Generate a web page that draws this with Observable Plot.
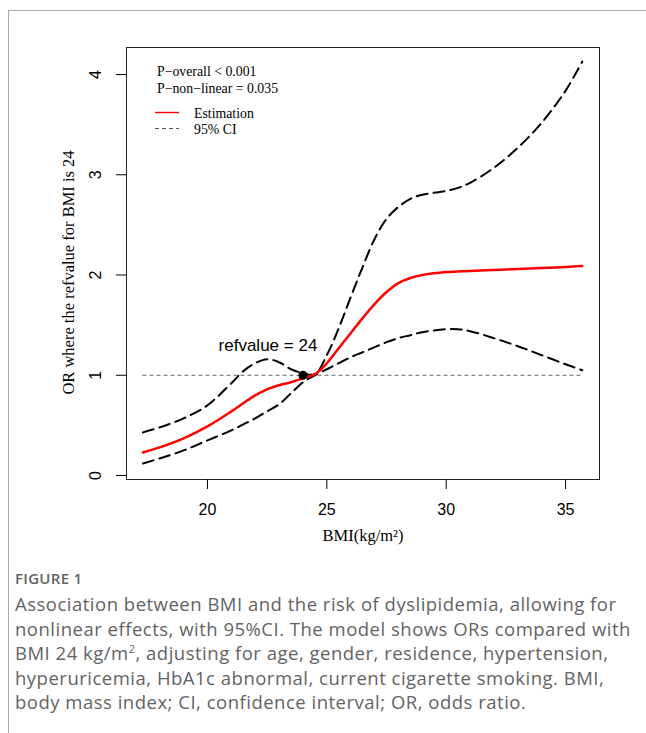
<!DOCTYPE html>
<html><head><meta charset="utf-8">
<script src="https://cdn.jsdelivr.net/npm/d3@7"></script>
<script src="https://cdn.jsdelivr.net/npm/@observablehq/plot@0.6"></script>
<style>
body{margin:0;background:#fff;}
#wrap{position:relative;width:646px;height:733px;overflow:hidden;background:#fff;}
#frame{position:absolute;left:8px;top:10px;width:700px;height:800px;border-top:1px solid #aaa;border-left:1px solid #aaa;}
#chart{position:absolute;left:0;top:0;}
#legend{position:absolute;left:0;top:0;}
#caption{position:absolute;left:15px;top:567px;width:631px;font-family:"Open Sans",sans-serif;color:#636363;white-space:nowrap;}
.fig{font-size:15px;font-weight:600;letter-spacing:0.3px;line-height:22px;margin-bottom:3px;}
.txt{font-size:18.5px;line-height:24.6px;font-weight:400;letter-spacing:0.5px;}
.txt sup{font-size:11px;line-height:0;}
</style></head>
<body><div id="wrap"><div id="frame"></div><div id="chart"></div><svg id="legend" width="646" height="160"></svg>
<div id="caption"><div class="fig">FIGURE 1</div><div class="txt">Association between BMI and the risk of dyslipidemia, allowing for<br>nonlinear effects, with 95%CI. The model shows ORs compared with<br>BMI 24 kg/m<sup>2</sup>, adjusting for age, gender, residence, hypertension,<br>hyperuricemia, HbA1c abnormal, current cigarette smoking. BMI,<br>body mass index; CI, confidence interval; OR, odds ratio.</div></div>
</div>
<script>
// BMI grid (kg/m²)
const bmi      = [17.3, 18, 19, 20, 21, 21.5, 22, 22.5, 23, 23.5, 24, 24.5, 25, 25.5, 26, 26.5, 27, 27.5, 28, 28.5, 29, 30, 30.5, 31, 32, 33, 34, 35, 35.7];
// Estimated OR (red)
const estimate = [0.23, 0.28, 0.37, 0.49, 0.64, 0.72, 0.80, 0.86, 0.90, 0.93, 0.97, 1.01, 1.12, 1.27, 1.42, 1.57, 1.71, 1.83, 1.92, 1.97, 2.00, 2.03, 2.035, 2.04, 2.05, 2.06, 2.07, 2.08, 2.09];
// 95% CI upper
const upper    = [0.43, 0.48, 0.57, 0.70, 0.92, 1.04, 1.12, 1.16, 1.13, 1.06, 1.02, 1.01, 1.20, 1.47, 1.78, 2.08, 2.36, 2.56, 2.68, 2.76, 2.80, 2.84, 2.87, 2.92, 3.07, 3.27, 3.52, 3.84, 4.13];
// 95% CI lower
const lower    = [0.12, 0.17, 0.25, 0.35, 0.45, 0.51, 0.57, 0.64, 0.71, 0.82, 0.93, 1.00, 1.06, 1.12, 1.18, 1.23, 1.28, 1.33, 1.37, 1.40, 1.43, 1.46, 1.46, 1.44, 1.37, 1.29, 1.20, 1.11, 1.05];

const refBMI = 24;
const refOR = 1;
const xTicks = [20, 25, 30, 35];
const yTicks = [0, 1, 2, 3, 4];
const xLabel = "BMI(kg/m²)";
const yLabel = "OR where the refvalue for BMI is 24";
const refText = "refvalue = 24";
const legendP = ["P\u2212overall < 0.001", "P\u2212non\u2212linear = 0.035"];
const legendItems = ["Estimation", "95% CI"];

const data = bmi.map((x, i) => ({x, est: estimate[i], up: upper[i], lo: lower[i]}));
const serif = "'Liberation Serif','Times New Roman',serif";
const sans = "'Liberation Sans',Arial,sans-serif";

const chart = Plot.plot({
  width: 646,
  height: 560,
  marginLeft: 126,
  marginRight: 47,
  marginTop: 47,
  marginBottom: 81,
  style: {fontFamily: sans, fontSize: "16px", background: "transparent", color: "#000"},
  x: {domain: [16.61, 36.42]},
  y: {domain: [-0.04, 4.27]},
  marks: [
    Plot.ruleY([refOR], {x1: d3.min(bmi), x2: d3.max(bmi), stroke: "#666", strokeWidth: 1, strokeDasharray: "4,3"}),
    Plot.line(data, {x: "x", y: "up", stroke: "#000", strokeWidth: 2, strokeDasharray: "11,6", curve: "catmull-rom"}),
    Plot.line(data, {x: "x", y: "lo", stroke: "#000", strokeWidth: 2, strokeDasharray: "11,6", curve: "catmull-rom"}),
    Plot.line(data, {x: "x", y: "est", stroke: "#ff0000", strokeWidth: 2.5, curve: "catmull-rom"}),
    Plot.dot([{x: refBMI, y: refOR}], {x: "x", y: "y", r: 4.5, fill: "#000", stroke: "none"}),
    Plot.text([{x: refBMI, y: refOR}], {x: "x", y: "y", text: () => refText, dx: -35, dy: -30, fontSize: 17, fontFamily: sans, fill: "#000"}),
    Plot.frame({stroke: "#222", strokeWidth: 1}),
    Plot.axisX({ticks: xTicks, tickSize: 10, tickPadding: 14, label: null, fontSize: 16}),
    Plot.axisY({ticks: yTicks, tickSize: 10, tickFormat: () => "", label: null}),
    Plot.text(yTicks, {y: d => d, text: d => String(d), frameAnchor: "left", textAnchor: "middle", dx: -31, rotate: -90, fontSize: 16, fontFamily: sans, fill: "#000"}),
    Plot.text([yLabel], {frameAnchor: "left", textAnchor: "middle", text: d => d, rotate: -90, dx: -58, dy: 9, fontSize: 16.5, fontFamily: serif, fill: "#000"}),
    Plot.text([xLabel], {frameAnchor: "bottom", text: d => d, dy: 61, fontSize: 16.5, fontFamily: serif, fill: "#000"})
  ]
});
document.getElementById("chart").appendChild(chart);

// Legend
const lg = d3.select("#legend");
lg.selectAll("text.p").data(legendP).join("text")
  .attr("x", 157).attr("y", (d, i) => 76 + i * 16.5)
  .attr("font-family", serif).attr("font-size", 13.8).text(d => d);
lg.append("line").attr("x1", 155).attr("x2", 179).attr("y1", 112.5).attr("y2", 112.5)
  .attr("stroke", "#ff0000").attr("stroke-width", 1.4);
lg.append("line").attr("x1", 155).attr("x2", 179).attr("y1", 128.5).attr("y2", 128.5)
  .attr("stroke", "#555").attr("stroke-width", 1).attr("stroke-dasharray", "4,3");
lg.selectAll("text.l").data(legendItems).join("text")
  .attr("x", 194).attr("y", (d, i) => 117.5 + i * 16.5)
  .attr("font-family", serif).attr("font-size", 13.8).text(d => d);
</script>
</body></html>
